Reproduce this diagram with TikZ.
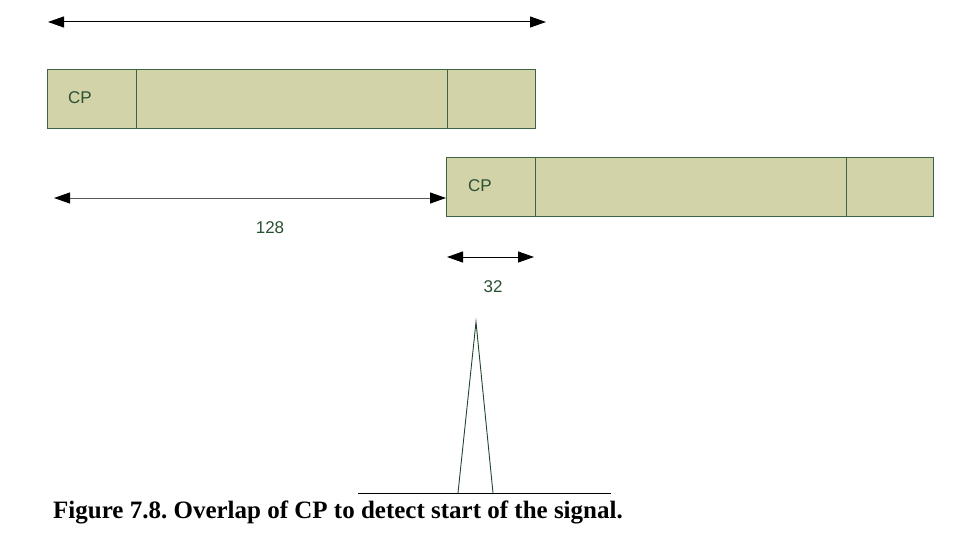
\documentclass[tikz,border=0pt]{standalone}
\usepackage{fontspec}
\setmainfont{Liberation Serif}
\newfontfamily\labelfont{Liberation Sans}
\usetikzlibrary{arrows.meta}
\definecolor{boxfill}{RGB}{211,211,170}
\definecolor{boxline}{RGB}{62,100,70}
\definecolor{labtext}{RGB}{40,80,50}
\definecolor{peakline}{RGB}{30,70,45}
\definecolor{baseline}{RGB}{100,135,108}
\tikzset{
  seg/.style={draw=boxline, fill=boxfill, line width=1pt, inner sep=0pt, minimum height=59pt, anchor=north west},
  dim/.style={{Triangle[length=16pt,width=11pt,color=black]}-{Triangle[length=16pt,width=11pt,color=black]}, line width=1pt},
  dimlabel/.style={font=\labelfont\fontsize{17}{19}\selectfont, text=labtext},
}
\begin{document}
\frenchspacing
\begin{tikzpicture}[x=1pt,y=-1pt]
\useasboundingbox (0,0) rectangle (979,548);
% first symbol
\node[seg, minimum width=89pt] (a1) at (47,69) {};
\node[seg, minimum width=311pt] (a2) at (136,69) {};
\node[seg, minimum width=88pt] (a3) at (447,69) {};
\node[dimlabel] at (80,98) {CP};
% second symbol
\node[seg, minimum width=89pt] (b1) at (446,157) {};
\node[seg, minimum width=311pt] (b2) at (535,157) {};
\node[seg, minimum width=87pt] (b3) at (846,157) {};
\node[dimlabel] at (480,186) {CP};
% top arrow
\coordinate (t1) at (48,22);
\coordinate (t2) at (546,22);
\draw[dim, black] (t1) -- (t2);
% 128 arrow
\coordinate (l1) at (54,198);
\coordinate (l2) at (446,198);
\draw[dim, draw=black!65] (l1) -- (l2);
\node[dimlabel] (n128) at (270,228) {128};
% 32 arrow
\coordinate (s1) at (447,257);
\coordinate (s2) at (534,257);
\draw[dim, black] (s1) -- (s2);
\node[dimlabel] (n32) at (493,287) {32};
% correlation peak
\coordinate (p0) at (358,493);
\coordinate (p1) at (458,493);
\coordinate (pk) at (476,322);
\coordinate (p2) at (493,493);
\coordinate (p3) at (611,493);
\draw[baseline, line width=1pt] (p0) -- (p3);
\draw[peakline, line width=0.9pt] (p1) -- (pk) -- (p2);
% caption
\node[anchor=base west, inner sep=0pt, font=\bfseries\fontsize{25}{28}\selectfont] (cap) at (53,518) {Figure 7.8. Overlap of CP to detect start of the signal.};
\end{tikzpicture}
\end{document}
